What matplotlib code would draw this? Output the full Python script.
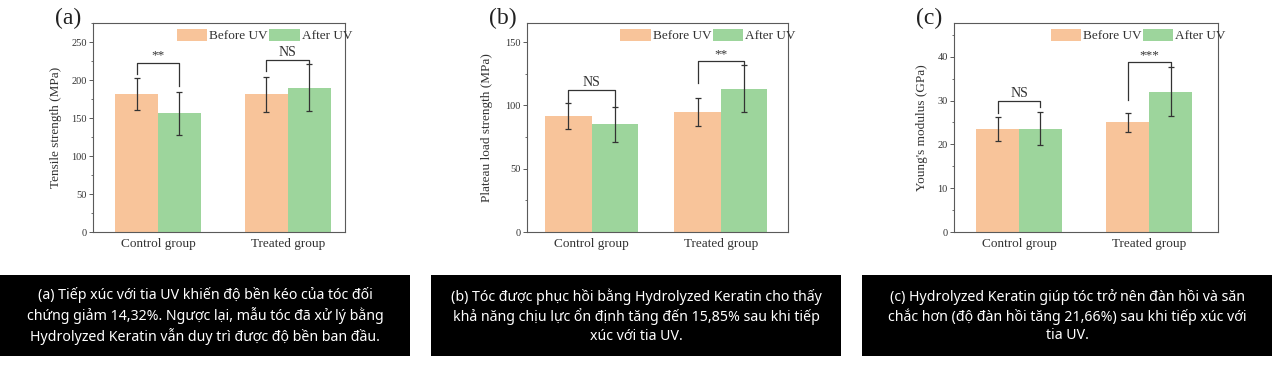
import matplotlib
matplotlib.use("Agg")
import matplotlib.pyplot as plt
from matplotlib.patches import Patch, Rectangle
from matplotlib.ticker import MultipleLocator

plt.rcParams['font.family'] = ['Liberation Serif', 'DejaVu Serif']

# data
groups = ["Control group", "Treated group"]
series = ["Before UV", "After UV"]

tensile_before = [182, 181]
tensile_before_err = [21, 23]
tensile_after = [156, 190]
tensile_after_err = [28, 31]

plateau_before = [91.5, 95]
plateau_before_err = [10, 11]
plateau_after = [85, 113]
plateau_after_err = [14, 18.5]

young_before = [23.5, 25]
young_before_err = [2.7, 2.2]
young_after = [23.6, 32]
young_after_err = [3.7, 5.6]

# significance brackets: label, top, left leg end, right leg end
tensile_sig = ["**", "NS"]
tensile_sig_top = [223, 226]
tensile_sig_left = [208, 212]
tensile_sig_right = [192, 222]

plateau_sig = ["NS", "**"]
plateau_sig_top = [112, 135]
plateau_sig_left = [102, 118]
plateau_sig_right = [99, 132]

young_sig = ["NS", "***"]
young_sig_top = [30, 38.7]
young_sig_left = [27.2, 30.1]
young_sig_right = [28.5, 37.9]

captions = [
    "(a) Tiếp xúc với tia UV khiến độ bền kéo của tóc đối\nchứng giảm 14,32%. Ngược lại, mẫu tóc đã xử lý bằng\nHydrolyzed Keratin vẫn duy trì được độ bền ban đầu.",
    "(b) Tóc được phục hồi bằng Hydrolyzed Keratin cho thấy\nkhả năng chịu lực ổn định tăng đến 15,85% sau khi tiếp\nxúc với tia UV.",
    "(c) Hydrolyzed Keratin giúp tóc trở nên đàn hồi và săn\nchắc hơn (độ đàn hồi tăng 21,66%) sau khi tiếp xúc với\ntia UV.",
]

ORANGE = "#f8c49a"
GREEN = "#9dd59c"
SPINE = "#5a5a5a"

W, H = 1280, 373
fig = plt.figure(figsize=(W / 100, H / 100), dpi=100)


def panel(left, width, letter, ylabel, before, before_err, after, after_err,
          ymax, major, minor, xmax, bar_w, sig, sig_top, sig_left, sig_right,
          label_x):
    ax = fig.add_axes([left / W, (H - 232) / H, width / W, 209 / H])
    x = list(range(len(groups)))
    xb = [i - bar_w / 2 for i in x]
    xa = [i + bar_w / 2 for i in x]
    ax.bar(xb, before, bar_w, color=ORANGE, zorder=2)
    ax.bar(xa, after, bar_w, color=GREEN, zorder=2)
    ax.errorbar(xb, before, yerr=before_err, fmt="none", ecolor="#333333",
                elinewidth=0.9, capsize=2, capthick=0.9, zorder=3)
    ax.errorbar(xa, after, yerr=after_err, fmt="none", ecolor="#333333",
                elinewidth=0.9, capsize=2, capthick=0.9, zorder=3)

    for i in range(len(groups)):
        ax.plot([xb[i], xb[i], xa[i], xa[i]],
                [sig_left[i], sig_top[i], sig_top[i], sig_right[i]],
                color="#333333", lw=0.9, zorder=4)
        ax.text(x[i], sig_top[i] + ymax * 0.004, sig[i], ha="center", va="bottom",
                fontsize=10 if sig[i] == "NS" else 9.5, color="#333333")

    ax.set_xlim(-0.5, xmax)
    ax.set_ylim(0, ymax)
    ax.yaxis.set_major_locator(MultipleLocator(major))
    ax.yaxis.set_minor_locator(MultipleLocator(minor))
    ax.set_xticks(x)
    ax.set_xticklabels(groups, fontsize=9.5, color="#333333")
    ax.tick_params(axis="x", length=0, pad=4)
    ax.tick_params(axis="y", which="major", length=3, width=0.7, labelsize=7.5,
                   colors=SPINE, labelcolor="#333333", pad=1.5)
    ax.tick_params(axis="y", which="minor", length=1.5, width=0.6, colors=SPINE)
    for s in ax.spines.values():
        s.set_color(SPINE)
        s.set_linewidth(0.8)
    ax.set_ylabel(ylabel, fontsize=9.5, color="#333333")
    ax.yaxis.set_label_coords(label_x, 0.5)

    handles = [Patch(facecolor=ORANGE, edgecolor="none"),
               Patch(facecolor=GREEN, edgecolor="none")]
    ax.legend(handles, series, ncol=2, loc="upper right",
              bbox_to_anchor=(1.054, 1.005), frameon=False, fontsize=9.5,
              handlelength=2.3, handleheight=1.1, handletextpad=0.15,
              columnspacing=0.1, borderaxespad=0.1, labelcolor="#333333")

    fig.text((left - 38) / W, 1 - 8 / H, letter, fontsize=17, va="top",
             ha="left", color="#222222")
    return ax


panel(93, 252, "(a)", "Tensile strength (MPa)", tensile_before, tensile_before_err,
      tensile_after, tensile_after_err, 275, 50, 25, 1.44, 0.33,
      tensile_sig, tensile_sig_top, tensile_sig_left, tensile_sig_right, -0.125)
panel(527, 261, "(b)", "Plateau load strength (MPa)", plateau_before, plateau_before_err,
      plateau_after, plateau_after_err, 165, 50, 25, 1.52, 0.36,
      plateau_sig, plateau_sig_top, plateau_sig_left, plateau_sig_right, -0.13)
panel(954, 264, "(c)", "Young's modulus (GPa)", young_before, young_before_err,
      young_after, young_after_err, 47.7, 10, 5, 1.53, 0.33,
      young_sig, young_sig_top, young_sig_left, young_sig_right, -0.10)

# caption boxes
box_left = [0, 431, 862]
box_w = 410
for bl, cap in zip(box_left, captions):
    fig.patches.append(Rectangle((bl / W, (H - 356) / H), box_w / W, 81 / H,
                                 transform=fig.transFigure, facecolor="black",
                                 edgecolor="none"))
    fig.text((bl + box_w / 2) / W, (H - 316) / H, cap, ha="center", va="center",
             color="white", fontsize=10.2, linespacing=1.28,
             family=["Noto Sans", "DejaVu Sans"])

fig.savefig("out.png", dpi=100, facecolor="white")
